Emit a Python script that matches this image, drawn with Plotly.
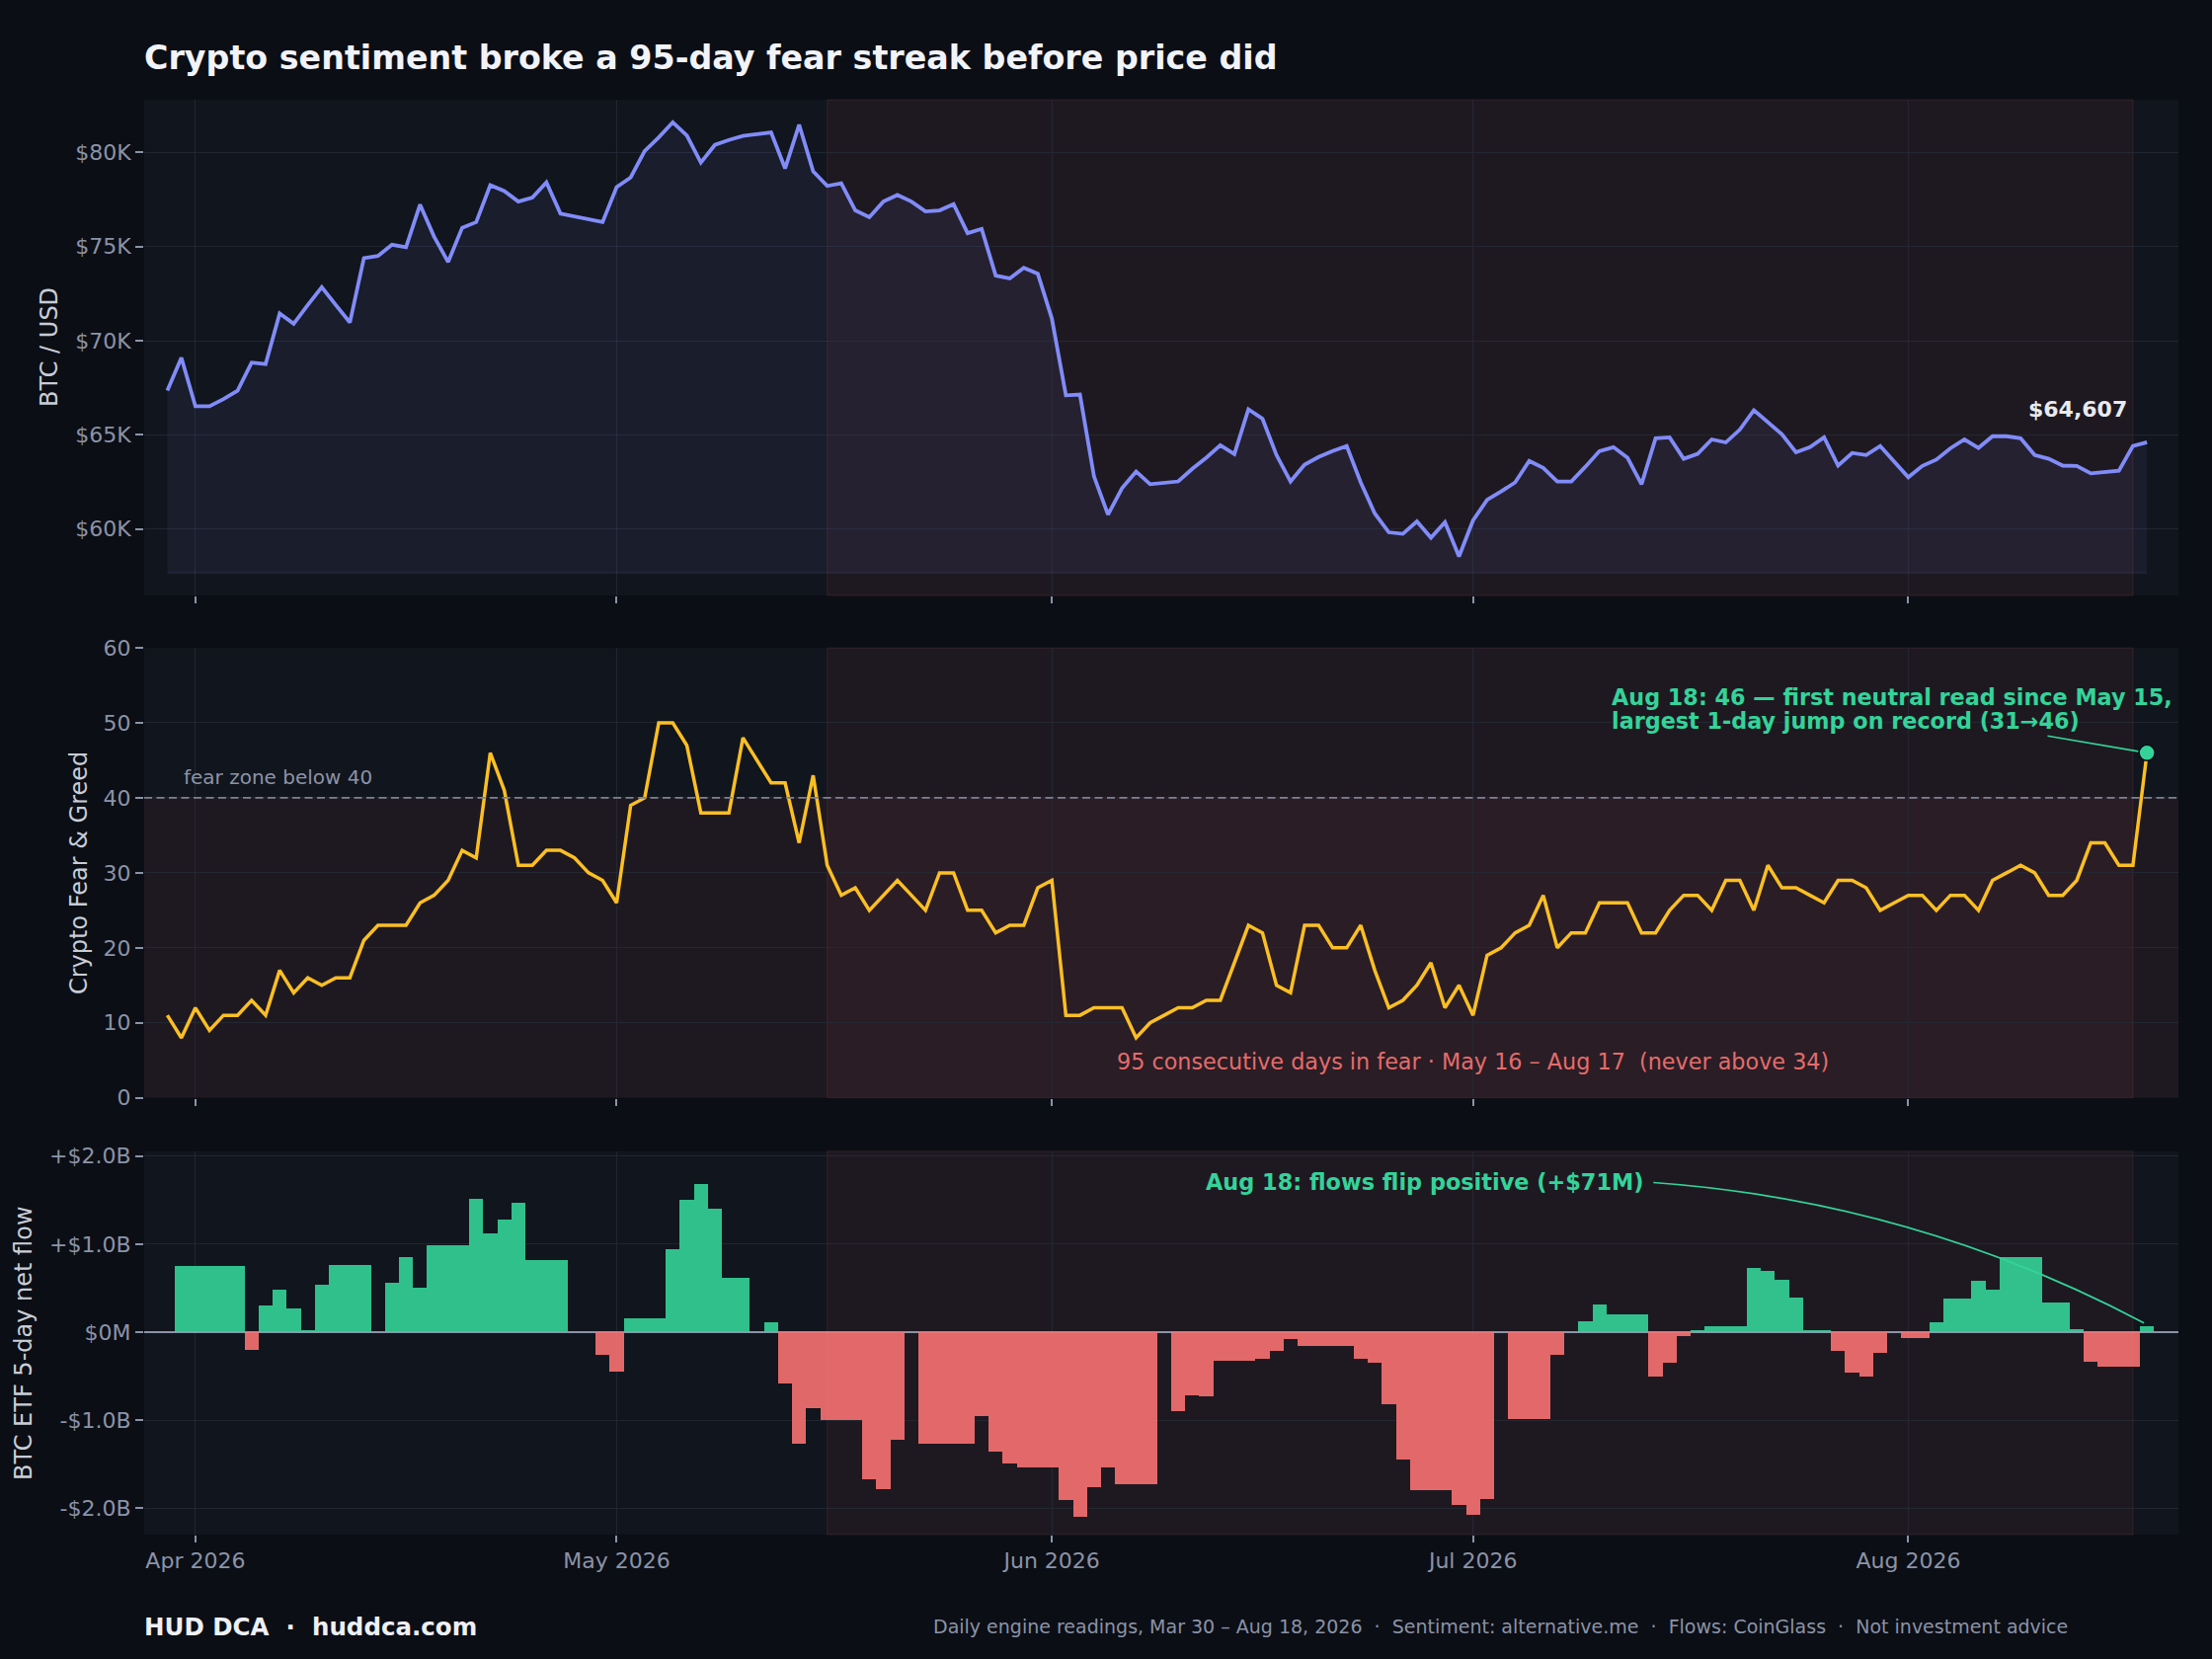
import plotly.graph_objects as go
import pandas as pd

# ---------------- data ----------------
START_DATE = "2026-03-30"

# BTC close, USD thousands (daily, Mar 30 - Aug 18 2026)
price_k = [
    67.35, 69.10, 66.52, 66.52, 66.90, 67.35, 68.84, 68.76, 71.45, 70.90,
    71.90, 72.84, 71.90, 70.97, 74.39, 74.50, 75.10, 74.97, 77.23, 75.53,
    74.18, 76.00, 76.30, 78.26, 77.95, 77.39, 77.60, 78.41, 76.75, 76.60,
    76.45, 76.30, 78.16, 78.67, 80.08, 80.80, 81.60, 80.90, 79.46, 80.40,
    80.66, 80.87, 80.97, 81.06, 79.15, 81.47, 78.99, 78.22, 78.36, 76.92,
    76.56, 77.39, 77.74, 77.39, 76.87, 76.92, 77.25, 75.71, 75.94, 73.46,
    73.31, 73.87, 73.56, 71.18, 67.10, 67.14, 62.80, 60.77, 62.17, 63.06,
    62.38, 62.44, 62.53, 63.20, 63.79, 64.45, 63.98, 66.36, 65.86, 63.93,
    62.53, 63.42, 63.83, 64.14, 64.41, 62.48, 60.83, 59.83, 59.75, 60.41,
    59.54, 60.37, 58.55, 60.46, 61.55, 62.00, 62.48, 63.62, 63.25, 62.53,
    62.53, 63.31, 64.14, 64.35, 63.79, 62.38, 64.82, 64.87, 63.73, 64.00,
    64.76, 64.60, 65.28, 66.31, 65.65, 65.03, 64.08, 64.35, 64.87, 63.37,
    64.04, 63.93, 64.41, 63.56, 62.75, 63.35, 63.69, 64.29, 64.76, 64.31,
    64.93, 64.93, 64.82, 63.93, 63.73, 63.37, 63.35, 62.96, 63.04, 63.10,
    64.41, 64.607,
]

# Crypto Fear & Greed index (daily)
fear_greed = [
    11, 8, 12, 9, 11, 11, 13, 11, 17, 14,
    16, 15, 16, 16, 21, 23, 23, 23, 26, 27,
    29, 33, 32, 46, 41, 31, 31, 33, 33, 32,
    30, 29, 26, 39, 40, 50, 50, 47, 38, 38,
    38, 48, 45, 42, 42, 34, 43, 31, 27, 28,
    25, 27, 29, 27, 25, 30, 30, 25, 25, 22,
    23, 23, 28, 29, 11, 11, 12, 12, 12, 8,
    10, 11, 12, 12, 13, 13, 18, 23, 22, 15,
    14, 23, 23, 20, 20, 23, 17, 12, 13, 15,
    18, 12, 15, 11, 19, 20, 22, 23, 27, 20,
    22, 22, 26, 26, 26, 22, 22, 25, 27, 27,
    25, 29, 29, 25, 31, 28, 28, 27, 26, 29,
    29, 28, 25, 26, 27, 27, 25, 27, 27, 25,
    29, 30, 31, 30, 27, 27, 29, 34, 34, 31,
    31, 46,
]

# BTC ETF 5-day net flow, USD billions (daily)
etf_flow_b = [
    0.00, 0.76, 0.76, 0.76, 0.76, 0.76,
    -0.20, 0.31, 0.49, 0.27, 0.02, 0.54,
    0.77, 0.77, 0.77, 0.00, 0.56, 0.85,
    0.51, 0.99, 0.99, 0.99, 1.52, 1.12,
    1.28, 1.47, 0.82, 0.82, 0.82, 0.00,
    0.00, -0.26, -0.45, 0.165, 0.165, 0.165,
    0.95, 1.51, 1.69, 1.40, 0.625, 0.625,
    0.00, 0.12, -0.58, -1.26, -0.86, -1.00,
    -1.00, -1.00, -1.67, -1.78, -1.22, 0.00,
    -1.26, -1.26, -1.26, -1.26, -0.95, -1.35,
    -1.49, -1.53, -1.53, -1.53, -1.90, -2.09,
    -1.76, -1.53, -1.72, -1.72, -1.72, 0.00,
    -0.89, -0.71, -0.73, -0.32, -0.32, -0.32,
    -0.30, -0.21, -0.08, -0.15, -0.15, -0.15,
    -0.15, -0.30, -0.35, -0.82, -1.44, -1.79,
    -1.79, -1.79, -1.96, -2.07, -1.89, 0.00,
    -0.98, -0.98, -0.98, -0.26, 0.00, 0.13,
    0.32, 0.20, 0.20, 0.20, -0.50, -0.34,
    -0.04, 0.03, 0.075, 0.075, 0.075, 0.73,
    0.70, 0.60, 0.40, 0.03, 0.03, -0.21,
    -0.46, -0.50, -0.23, 0.00, -0.07, -0.07,
    0.12, 0.38, 0.38, 0.59, 0.49, 0.86,
    0.86, 0.86, 0.345, 0.345, 0.04, -0.33,
    -0.385, -0.385, -0.385, 0.071,
]

FEAR_START = "2026-05-16"
FEAR_END = "2026-08-17"
FEAR_LEVEL = 40

month_ticks = ["2026-04-01", "2026-05-01", "2026-06-01", "2026-07-01", "2026-08-01"]
month_labels = ["Apr 2026", "May 2026", "Jun 2026", "Jul 2026", "Aug 2026"]

price_tickvals = [60000, 65000, 70000, 75000, 80000]
price_ticktext = ["$60K", "$65K", "$70K", "$75K", "$80K"]
fg_tickvals = [0, 10, 20, 30, 40, 50, 60]
flow_tickvals = [-2, -1, 0, 1, 2]
flow_ticktext = ["-$2.0B", "-$1.0B", "$0M", "+$1.0B", "+$2.0B"]

# ---------------- derived ----------------
dates = pd.date_range(START_DATE, periods=len(price_k), freq="D")
price = [p * 1000 for p in price_k]
fill_base = min(price) * 0.985
p_lo, p_hi = fill_base, max(price)
p_pad = 0.05 * (p_hi - p_lo)
price_range = [p_lo - p_pad, p_hi + p_pad]
fg_range = [0, 60]
flow_range = [-2.30, 2.056]

# ---------------- geometry / style ----------------
W, H = 2240, 1680
L, R, T, B = 146, 2206, 101, 1554
XMIN, XMAX = pd.Timestamp("2026-03-28 08:24"), pd.Timestamp("2026-08-20 05:46")
DOM1 = [0.6545, 1.0]
DOM2 = [0.3044, 0.6180]
DOM3 = [0.0, 0.2672]

BG = "#0b0e15"
PLOT_BG = "#11151d"
GRID = "rgba(36,42,54,0.8)"
TICK_C = "#8b93a7"
LABEL_C = "#c8ccd5"
TITLE_C = "#f1f3f8"
INDIGO = "#818cf8"
AMBER = "#fbbf24"
GREEN = "#34d399"
RED = "#f87171"
FONT = "DejaVu Sans"


def px_x(px):
    return (px - L) / (R - L)


def px_y(py):
    return (B - py) / (B - T)


def date_px(d):
    d = pd.Timestamp(d)
    return L + (d - XMIN) / (XMAX - XMIN) * (R - L)


def val_px(v, rng, dom):
    frac = dom[0] + (v - rng[0]) / (rng[1] - rng[0]) * (dom[1] - dom[0])
    return B - frac * (B - T)


fig = go.Figure()

# price panel
fig.add_trace(go.Scatter(
    x=dates, y=[fill_base] * len(dates), mode="lines",
    line=dict(color="rgba(129,140,248,0.16)", width=1),
    hoverinfo="skip", xaxis="x", yaxis="y"))
fig.add_trace(go.Scatter(
    x=dates, y=price, mode="lines", fill="tonexty",
    fillcolor="rgba(129,140,248,0.075)",
    line=dict(color=INDIGO, width=3.8), xaxis="x", yaxis="y"))

# fear & greed panel
fig.add_trace(go.Scatter(
    x=dates, y=fear_greed, mode="lines",
    line=dict(color=AMBER, width=3.5), xaxis="x2", yaxis="y2"))
fig.add_trace(go.Scatter(
    x=[dates[-1]], y=[fear_greed[-1]], mode="markers",
    marker=dict(size=16, color=GREEN, line=dict(color=BG, width=1.5)),
    xaxis="x2", yaxis="y2"))

# flows panel
bar_colors = ["rgba(52,211,153,0.9)" if v >= 0 else "rgba(248,113,113,0.9)" for v in etf_flow_b]
fig.add_trace(go.Bar(
    x=dates, y=etf_flow_b, width=86400000, marker=dict(color=bar_colors, line=dict(width=0)),
    xaxis="x3", yaxis="y3"))

# ---------------- shapes ----------------
shapes = []
for xr, yr in [("x", "y"), ("x2", "y2"), ("x3", "y3")]:
    shapes.append(dict(
        type="rect", xref=xr, yref=f"{yr} domain", x0=FEAR_START, x1=FEAR_END, y0=0, y1=1,
        fillcolor="rgba(248,113,113,0.055)", line=dict(color="rgba(248,113,113,0.13)", width=1),
        layer="below"))
shapes.append(dict(
    type="rect", xref="x2 domain", yref="y2", x0=0, x1=1, y0=0, y1=FEAR_LEVEL,
    fillcolor="rgba(248,113,113,0.055)", line=dict(width=0), layer="below"))
shapes.append(dict(
    type="line", xref="x2 domain", yref="y2", x0=0, x1=1, y0=FEAR_LEVEL, y1=FEAR_LEVEL,
    line=dict(color="#7d8394", width=1.7, dash="8px,4.5px"), layer="above"))

# curved connector for flows annotation (arc from text end to last bar)
sx = date_px("2026-07-13") + 12
sy = val_px(1.7, flow_range, DOM3)
ex = date_px(dates[-1]) - 3
ey = val_px(etf_flow_b[-1], flow_range, DOM3) - 3
dx, dy = ex - sx, ey - sy
rad = 0.105
cx = (sx + ex) / 2 + rad * dy
cy = (sy + ey) / 2 - rad * dx
shapes.append(dict(
    type="path", xref="paper", yref="paper",
    path=f"M {px_x(sx)},{px_y(sy)} Q {px_x(cx)},{px_y(cy)} {px_x(ex)},{px_y(ey)}",
    line=dict(color=GREEN, width=1.7), layer="above"))

# ---------------- annotations ----------------
ann = []
ann.append(dict(
    x=dates[-1], y=price[-1], xref="x", yref="y", text=f"${price[-1]:,.0f}",
    showarrow=False, xanchor="right", yanchor="middle", xshift=-18, yshift=33,
    font=dict(family=FONT, size=22, color="#e8eaf0", weight="bold")))
ann.append(dict(
    x=dates[1], y=42.7, xref="x2", yref="y2", text="fear zone below 40",
    showarrow=False, xanchor="left", yanchor="middle",
    font=dict(family=FONT, size=20, color=TICK_C)))
ann.append(dict(
    x=px_x(1630), y=px_y(706), xref="paper", yref="paper",
    text="Aug 18: 46 \u2014 first neutral read since May 15,",
    showarrow=False, xanchor="left", yanchor="middle",
    font=dict(family=FONT, size=22.3, color=GREEN, weight="bold")))
ann.append(dict(
    x=px_x(1630), y=px_y(729.5), xref="paper", yref="paper",
    text="largest 1-day jump on record (31\u219246)",
    showarrow=False, xanchor="left", yanchor="middle",
    font=dict(family=FONT, size=22.3, color=GREEN, weight="bold")))
pt_x = date_px(dates[-1])
pt_y = val_px(fear_greed[-1], fg_range, DOM2)
ann.append(dict(
    x=dates[-1], y=fear_greed[-1], xref="x2", yref="y2", text="",
    showarrow=True, arrowhead=0, arrowwidth=1.7, arrowcolor=GREEN,
    ax=2072 - pt_x, ay=745 - pt_y, standoff=9))
ann.append(dict(
    x="2026-07-01", y=4.8, xref="x2", yref="y2",
    text="95 consecutive days in fear \u00b7 May 16 \u2013 Aug 17 \u00a0(never above 34)",
    showarrow=False, xanchor="center", yanchor="middle",
    font=dict(family=FONT, size=22.3, color="#e46c6c")))
ann.append(dict(
    x="2026-07-13", y=1.7, xref="x3", yref="y3",
    text="Aug 18: flows flip positive (+$71M)",
    showarrow=False, xanchor="right", yanchor="middle", xshift=5,
    font=dict(family=FONT, size=22.4, color=GREEN, weight="bold")))

# axis titles
for txt, xc, yc in [("BTC / USD", 50, 352), ("Crypto Fear &amp; Greed", 80, 884),
                    ("BTC ETF 5-day net flow", 24, 1360)]:
    ann.append(dict(
        x=px_x(xc), y=px_y(yc), xref="paper", yref="paper", text=txt, textangle=-90,
        showarrow=False, xanchor="center", yanchor="middle",
        font=dict(family=FONT, size=24, color=LABEL_C)))

# footer
ann.append(dict(
    x=px_x(144), y=px_y(1647), xref="paper", yref="paper",
    text="HUD DCA \u00a0\u00b7\u00a0 huddca.com",
    showarrow=False, xanchor="left", yanchor="middle",
    font=dict(family=FONT, size=24.5, color="#eef0f5", weight="bold")))
ann.append(dict(
    x=px_x(2096), y=px_y(1647), xref="paper", yref="paper",
    text=("Daily engine readings, Mar 30 \u2013 Aug 18, 2026 \u00a0\u00b7\u00a0 Sentiment: alternative.me"
          " \u00a0\u00b7\u00a0 Flows: CoinGlass \u00a0\u00b7\u00a0 Not investment advice"),
    showarrow=False, xanchor="right", yanchor="middle",
    font=dict(family=FONT, size=19, color=TICK_C)))

# ---------------- axes ----------------
xcommon = dict(
    type="date", range=[XMIN, XMAX], tickvals=month_ticks, ticktext=month_labels,
    ticks="outside", ticklen=7, tickwidth=1.5, tickcolor=TICK_C,
    showgrid=True, gridcolor=GRID, gridwidth=1, zeroline=False, showline=False,
    tickfont=dict(family=FONT, size=22, color=TICK_C))
ycommon = dict(
    ticks="outside", ticklen=8, tickwidth=1.5, tickcolor=TICK_C,
    showgrid=True, gridcolor=GRID, gridwidth=1, showline=False,
    tickfont=dict(family=FONT, size=22, color=TICK_C))

fig.update_layout(
    width=W, height=H, autosize=False,
    margin=dict(l=L, r=W - R, t=T, b=H - B, pad=0),
    paper_bgcolor=BG, plot_bgcolor=PLOT_BG,
    font=dict(family=FONT, size=22, color=TICK_C),
    showlegend=False, bargap=0,
    title=dict(
        text="Crypto sentiment broke a 95-day fear streak before price did",
        x=L / W, xanchor="left", xref="container",
        y=1 - 58.6 / H, yanchor="middle", yref="container",
        font=dict(family=FONT, size=33.3, color=TITLE_C, weight="bold")),
    xaxis=dict(xcommon, domain=[0, 1], anchor="y", showticklabels=False),
    xaxis2=dict(xcommon, domain=[0, 1], anchor="y2", matches="x", showticklabels=False),
    xaxis3=dict(xcommon, domain=[0, 1], anchor="y3", matches="x", showticklabels=True,
                layer="above traces"),
    yaxis=dict(ycommon, domain=DOM1, anchor="x", range=price_range,
               tickvals=price_tickvals, ticktext=price_ticktext, zeroline=False),
    yaxis2=dict(ycommon, domain=DOM2, anchor="x2", range=fg_range,
                tickvals=fg_tickvals, zeroline=False),
    yaxis3=dict(ycommon, domain=DOM3, anchor="x3", range=flow_range,
                tickvals=flow_tickvals, ticktext=flow_ticktext,
                zeroline=True, zerolinecolor=TICK_C, zerolinewidth=2,
                layer="above traces"),
    shapes=shapes, annotations=ann,
)

fig.write_html(
    "out.html",
    config={"displayModeBar": False},
    post_script="document.body.style.margin='0';document.body.style.padding='0';"
                "document.body.style.background='#0b0e15';",
)
